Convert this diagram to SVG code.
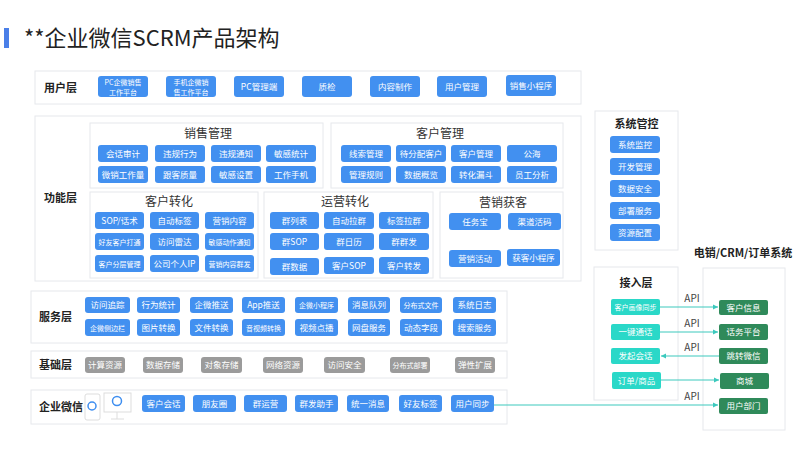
<svg xmlns="http://www.w3.org/2000/svg" width="800" height="449" viewBox="0 0 800 449">
<style>
text{font-family:"Noto Sans CJK SC","Liberation Sans",sans-serif}
.box{fill:#fff;stroke:#e6e8ec;stroke-width:1}
.b rect{fill:#4290f0;rx:3}
.g rect{fill:#9b9b9b;rx:3}
.t rect{fill:#2ad8c8;rx:2}
.n rect{fill:#2f8a5a;rx:2}
.b text,.g text,.t text,.n text{fill:#fff;font-size:8.5px;text-anchor:middle}
.s{font-size:7px !important}
.lab{font-size:11px;font-weight:bold;fill:#222}
.sub{font-size:12px;fill:#333;text-anchor:middle}
.con{stroke:#3cc9bd;stroke-width:1;fill:none}
.api{font-size:10px;fill:#444;text-anchor:middle}
</style>
<defs><marker id="ar" markerWidth="6" markerHeight="6" refX="5" refY="3" orient="auto"><path d="M0,0.5L5,3L0,5.5z" fill="#3cc9bd"/></marker></defs>
<rect width="800" height="449" fill="#fff"/>
<g id="title"><rect x="4" y="28" width="5" height="20" fill="#4a7fe8"/><text x="24" y="46" font-size="22" fill="#222">**企业微信SCRM产品架构</text></g>

<g id="user-layer"><rect class="box" x="35" y="71" width="546" height="33"/><text class="lab" x="44" y="92">用户层</text>
<g class="b">
<rect x="98" y="76" width="50" height="21"/><text class="s" x="123" y="85">PC企微销售</text><text class="s" x="123" y="95">工作平台</text>
<rect x="166" y="76" width="50" height="21"/><text class="s" x="191" y="85">手机企微销</text><text class="s" x="191" y="95">售工作平台</text>
<rect x="234" y="76" width="50" height="21"/><text x="259" y="90">PC管理端</text>
<rect x="302" y="76" width="50" height="21"/><text x="327" y="90">质检</text>
<rect x="370" y="76" width="50" height="21"/><text x="395" y="90">内容制作</text>
<rect x="437" y="76" width="50" height="21"/><text x="462" y="90">用户管理</text>
<rect x="506" y="75" width="50" height="21"/><text x="531" y="89">销售小程序</text>
</g></g>

<g id="function-layer"><rect class="box" x="35" y="116" width="546" height="165"/><text class="lab" x="44" y="202">功能层</text></g>

<g id="sales"><rect class="box" x="90" y="123" width="233" height="65"/><text class="sub" x="208" y="138">销售管理</text>
<g class="b">
<rect x="98" y="145" width="50" height="17"/><text x="123" y="157">会话审计</text>
<rect x="155" y="145" width="50" height="17"/><text x="180" y="157">违规行为</text>
<rect x="211" y="145" width="50" height="17"/><text x="236" y="157">违规通知</text>
<rect x="266" y="145" width="50" height="17"/><text x="291" y="157">敏感统计</text>
<rect x="98" y="166" width="50" height="17"/><text x="123" y="178">微销工作量</text>
<rect x="155" y="166" width="50" height="17"/><text x="180" y="178">跟客质量</text>
<rect x="211" y="166" width="50" height="17"/><text x="236" y="178">敏感设置</text>
<rect x="266" y="166" width="50" height="17"/><text x="291" y="178">工作手机</text>
</g></g>

<g id="customer-mgmt"><rect class="box" x="331" y="123" width="232" height="65"/><text class="sub" x="440" y="138">客户管理</text>
<g class="b">
<rect x="341" y="145" width="50" height="17"/><text x="366" y="157">线索管理</text>
<rect x="396" y="145" width="50" height="17"/><text x="421" y="157">待分配客户</text>
<rect x="451" y="145" width="50" height="17"/><text x="476" y="157">客户管理</text>
<rect x="507" y="145" width="50" height="17"/><text x="532" y="157">公海</text>
<rect x="341" y="166" width="50" height="17"/><text x="366" y="178">管理规则</text>
<rect x="396" y="166" width="50" height="17"/><text x="421" y="178">数据概览</text>
<rect x="451" y="166" width="50" height="17"/><text x="476" y="178">转化漏斗</text>
<rect x="507" y="166" width="50" height="17"/><text x="532" y="178">员工分析</text>
</g></g>

<g id="customer-conv"><rect class="box" x="90" y="192" width="168" height="86"/><text class="sub" x="169" y="206">客户转化</text>
<g class="b">
<rect x="95" y="212" width="49" height="17"/><text x="119.5" y="224">SOP/话术</text>
<rect x="150" y="212" width="49" height="17"/><text x="174.5" y="224">自动标签</text>
<rect x="205" y="212" width="49" height="17"/><text x="229.5" y="224">营销内容</text>
<rect x="95" y="233" width="49" height="17"/><text class="s" x="119.5" y="244.5">好友客户打通</text>
<rect x="150" y="233" width="49" height="17"/><text x="174.5" y="245">访问雷达</text>
<rect x="205" y="233" width="49" height="17"/><text class="s" x="229.5" y="244.5">敏感动作通知</text>
<rect x="95" y="255" width="49" height="17"/><text class="s" x="119.5" y="266.5">客户分层管理</text>
<rect x="150" y="255" width="49" height="17"/><text x="174.5" y="267">公司个人IP</text>
<rect x="205" y="255" width="49" height="17"/><text class="s" x="229.5" y="266.5">营销内容群发</text>
</g></g>

<g id="ops-conv"><rect class="box" x="264" y="192" width="169" height="86"/><text class="sub" x="345" y="206">运营转化</text>
<g class="b">
<rect x="270" y="212" width="49" height="17"/><text x="294.5" y="224">群列表</text>
<rect x="324" y="212" width="50" height="17"/><text x="349" y="224">自动拉群</text>
<rect x="379" y="212" width="50" height="17"/><text x="404" y="224">标签拉群</text>
<rect x="270" y="233" width="49" height="17"/><text x="294.5" y="245">群SOP</text>
<rect x="324" y="233" width="50" height="17"/><text x="349" y="245">群日历</text>
<rect x="379" y="233" width="50" height="17"/><text x="404" y="245">群群发</text>
<rect x="270" y="258" width="49" height="17"/><text x="294.5" y="270">群数据</text>
<rect x="324" y="257" width="50" height="17"/><text x="349" y="269">客户SOP</text>
<rect x="379" y="257" width="50" height="17"/><text x="404" y="269">客户转发</text>
</g></g>

<g id="marketing"><rect class="box" x="440" y="192" width="123" height="86"/><text class="sub" x="503" y="207">营销获客</text>
<g class="b">
<rect x="449" y="213" width="52" height="17"/><text x="475" y="225">任务宝</text>
<rect x="508" y="213" width="53" height="17"/><text x="534.5" y="225">渠道活码</text>
<rect x="449" y="250" width="52" height="17"/><text x="475" y="262">营销活动</text>
<rect x="507" y="249" width="53" height="17"/><text x="533.5" y="261">获客小程序</text>
</g></g>

<g id="service-layer"><rect class="box" x="31" y="291" width="476" height="52"/><text class="lab" x="39" y="321">服务层</text>
<g class="b">
<rect x="85" y="297" width="45" height="16"/><text x="107.5" y="308">访问追踪</text>
<rect x="137" y="297" width="43" height="16"/><text x="158.5" y="308">行为统计</text>
<rect x="190" y="297" width="43" height="16"/><text x="211.5" y="308">企微推送</text>
<rect x="242" y="297" width="43" height="16"/><text x="263.5" y="308">App推送</text>
<rect x="295" y="297" width="43" height="16"/><text class="s" x="316.5" y="307.5">企微小程序</text>
<rect x="348" y="297" width="42" height="16"/><text x="369" y="308">消息队列</text>
<rect x="400" y="297" width="42" height="16"/><text class="s" x="421" y="307.5">分布式文件</text>
<rect x="453" y="297" width="43" height="16"/><text x="474.5" y="308">系统日志</text>
<rect x="85" y="319" width="45" height="17"/><text class="s" x="107.5" y="330.5">企微侧边栏</text>
<rect x="137" y="319" width="43" height="17"/><text x="158.5" y="331">图片转换</text>
<rect x="190" y="319" width="43" height="17"/><text x="211.5" y="331">文件转换</text>
<rect x="242" y="319" width="43" height="17"/><text class="s" x="263.5" y="330.5">音视频转换</text>
<rect x="295" y="319" width="43" height="17"/><text x="316.5" y="331">视频点播</text>
<rect x="348" y="319" width="42" height="17"/><text x="369" y="331">网盘服务</text>
<rect x="400" y="319" width="42" height="17"/><text x="421" y="331">动态字段</text>
<rect x="453" y="319" width="43" height="17"/><text x="474.5" y="331">搜索服务</text>
</g></g>

<g id="base-layer"><rect class="box" x="31" y="351" width="476" height="27"/><text class="lab" x="39" y="369">基础层</text>
<g class="g">
<rect x="85" y="357" width="40" height="16"/><text x="105" y="368">计算资源</text>
<rect x="143" y="357" width="40" height="16"/><text x="163" y="368">数据存储</text>
<rect x="201" y="357" width="41" height="16"/><text x="221.5" y="368">对象存储</text>
<rect x="263" y="357" width="40" height="16"/><text x="283" y="368">网络资源</text>
<rect x="324" y="357" width="41" height="16"/><text x="344.5" y="368">访问安全</text>
<rect x="390" y="357" width="40" height="16"/><text class="s" x="410" y="367.5">分布式部署</text>
<rect x="455" y="357" width="40" height="16"/><text x="475" y="368">弹性扩展</text>
</g></g>

<g id="wecom-layer"><rect class="box" x="31" y="390" width="476" height="34"/><text class="lab" x="39" y="411">企业微信</text>
<rect x="85" y="394" width="15" height="26" rx="2" fill="#fff" stroke="#ddd"/><circle cx="92" cy="406" r="4" fill="none" stroke="#3e8ef0" stroke-width="1.5"/>
<rect x="104" y="393" width="27" height="19" fill="#fff" stroke="#ddd"/><circle cx="117" cy="401" r="4.5" fill="none" stroke="#3e8ef0" stroke-width="1.5"/><path d="M111,419h13M117,412v7" stroke="#ddd"/>
<g class="b">
<rect x="142" y="395" width="43" height="17"/><text x="163.5" y="407">客户会话</text>
<rect x="193" y="395" width="43" height="17"/><text x="214.5" y="407">朋友圈</text>
<rect x="244" y="395" width="43" height="17"/><text x="265.5" y="407">群运营</text>
<rect x="295" y="395" width="43" height="17"/><text x="316.5" y="407">群发助手</text>
<rect x="347" y="395" width="42" height="17"/><text x="368" y="407">统一消息</text>
<rect x="399" y="395" width="43" height="17"/><text x="420.5" y="407">好友标签</text>
<rect x="451" y="395" width="43" height="17"/><text x="472.5" y="407">用户同步</text>
</g></g>

<g id="sys-control"><rect class="box" x="595" y="111" width="83" height="139"/><text class="lab" x="636.5" y="128" text-anchor="middle">系统管控</text>
<g class="b">
<rect x="610" y="136" width="50" height="17"/><text x="635" y="148">系统监控</text>
<rect x="610" y="158" width="50" height="17"/><text x="635" y="170">开发管理</text>
<rect x="610" y="180" width="50" height="17"/><text x="635" y="192">数据安全</text>
<rect x="610" y="202" width="50" height="17"/><text x="635" y="214">部署服务</text>
<rect x="610" y="224" width="50" height="17"/><text x="635" y="236">资源配置</text>
</g></g>

<g id="access-layer"><rect class="box" x="594" y="267" width="84" height="133"/><text class="lab" x="636" y="287" text-anchor="middle">接入层</text>
<g class="t">
<rect x="611" y="299" width="49" height="16"/><text class="s" x="635.5" y="309.5">客户画像同步</text>
<rect x="611" y="324" width="49" height="16"/><text x="635.5" y="335">一键通话</text>
<rect x="611" y="348" width="49" height="16"/><text x="635.5" y="359">发起会话</text>
<rect x="612" y="372" width="49" height="17"/><text x="636.5" y="384">订单/商品</text>
</g></g>

<g id="crm"><text class="lab" x="743" y="257" text-anchor="middle">电销/CRM/订单系统</text><rect class="box" x="703" y="268" width="82" height="162"/>
<g class="n">
<rect x="719" y="300" width="49" height="15"/><text x="743.5" y="311">客户信息</text>
<rect x="719" y="324" width="49" height="16"/><text x="743.5" y="335">话务平台</text>
<rect x="719" y="348" width="49" height="16"/><text x="743.5" y="359">跳转微信</text>
<rect x="720" y="373" width="49" height="16"/><text x="744.5" y="384">商城</text>
<rect x="719" y="398" width="49" height="16"/><text x="743.5" y="409">用户部门</text>
</g></g>

<g id="connectors">
<path class="con" d="M660,307H718" marker-end="url(#ar)"/>
<path class="con" d="M660,332H718" marker-end="url(#ar)"/>
<path class="con" d="M719,356H661" marker-end="url(#ar)"/>
<path class="con" d="M661,380H719" marker-end="url(#ar)"/>
<path class="con" d="M494,405H718" marker-end="url(#ar)"/>
<text class="api" x="692" y="302">API</text>
<text class="api" x="692" y="327">API</text>
<text class="api" x="692" y="351">API</text>
<text class="api" x="692" y="400">API</text>
</g>
</svg>
